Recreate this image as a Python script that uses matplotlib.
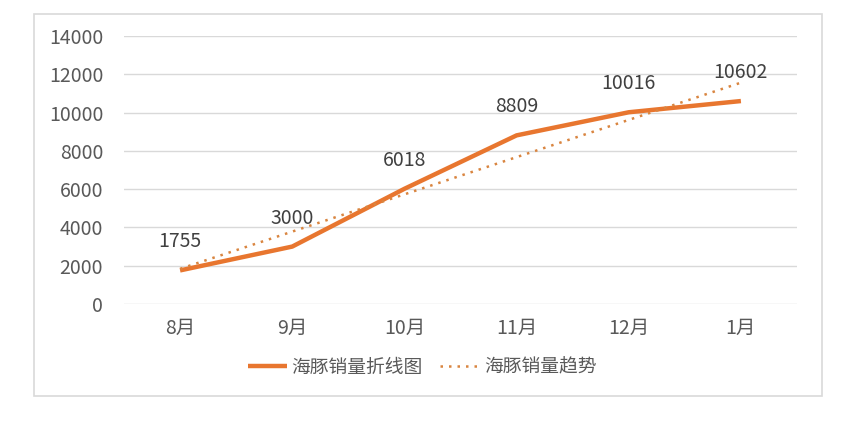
import numpy as np
import matplotlib
matplotlib.use("Agg")
import matplotlib.pyplot as plt
from matplotlib.patches import Rectangle

plt.rcParams['font.family'] = ['Noto Sans CJK SC', 'DejaVu Sans']

# data
months = ["8月", "9月", "10月", "11月", "12月", "1月"]
sales = [1755, 3000, 6018, 8809, 10016, 10602]
line_name = "海豚销量折线图"
trend_name = "海豚销量趋势"

orange = "#E8762F"
trend_c = "#D98540"
grid_c = "#D9D9D9"
text_c = "#595959"

W, H = 852, 434
fig = plt.figure(figsize=(W / 100, H / 100), dpi=100)

# chart border
fig.patches.append(Rectangle((34 / W, 1 - 396 / H), (822 - 34) / W, (396 - 14) / H,
                             transform=fig.transFigure, fill=False,
                             edgecolor=grid_c, linewidth=1.2))

ax = fig.add_axes([124 / W, 1 - 304 / H, (797 - 124) / W, 268 / H])

x = np.arange(len(months))
ax.plot(x, sales, color=orange, linewidth=3.2, solid_capstyle="butt", label=line_name, zorder=3)

# linear trend line
k, b = np.polyfit(x, sales, 1)
ax.plot(x, k * x + b, color=trend_c, linewidth=1.8, linestyle=(0, (1, 2.4)), label=trend_name, zorder=4)

for xi, v in zip(x, sales):
    ax.annotate(str(v), (xi, v), xytext=(0, 13), textcoords="offset points",
                ha="center", va="bottom", fontsize=14, color="#404040")

ax.set_xlim(-0.5, len(months) - 0.5)
ax.set_ylim(0, 14000)
ax.set_yticks(range(0, 14001, 2000))
ax.set_xticks(x)
ax.set_xticklabels(months)
ax.grid(axis="y", color=grid_c, linewidth=1)
ax.set_axisbelow(True)
for s in ax.spines.values():
    s.set_visible(False)
ax.tick_params(length=0, labelsize=14, colors=text_c)
ax.tick_params(axis="y", pad=15)
ax.tick_params(axis="x", pad=10)

fig.legend(loc="center", bbox_to_anchor=(422 / W, 1 - 367 / H), ncol=2, frameon=False,
           fontsize=13.5, labelcolor=text_c, handlelength=2.1, handletextpad=0.25,
           columnspacing=0.9)

fig.savefig("out.png", dpi=100, facecolor="white")
